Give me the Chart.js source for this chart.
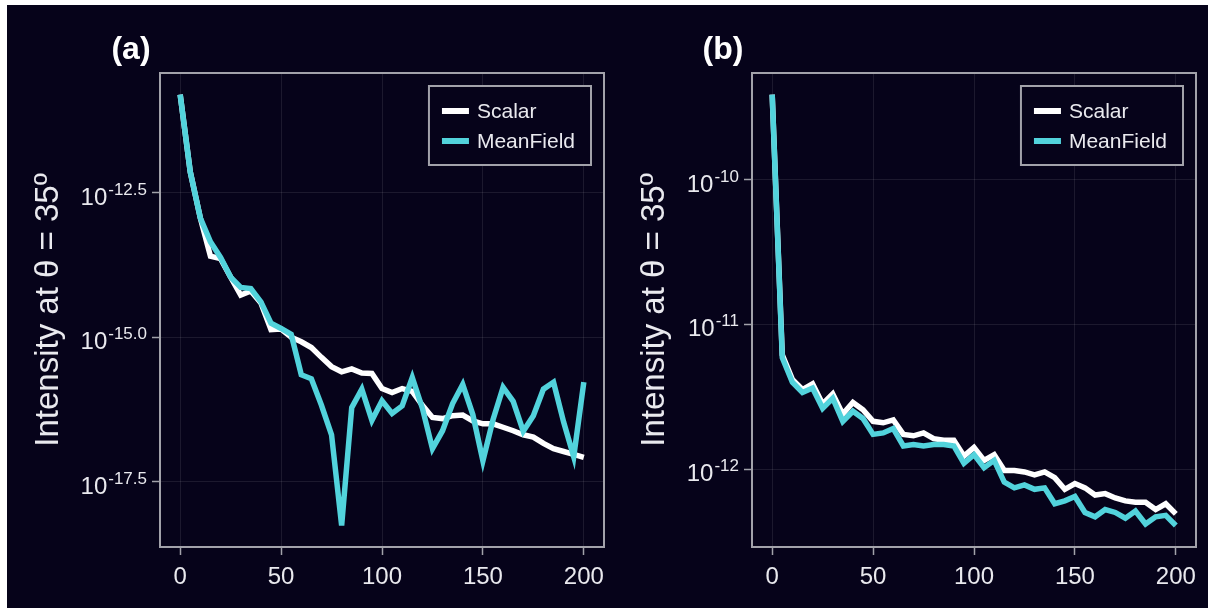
<!DOCTYPE html>
<html lang="en">
<head>
  <meta charset="UTF-8">
  <title>Intensity at θ = 35º</title>
  <script src="https://cdn.jsdelivr.net/npm/chart.js"></script>
  <style>
    * { box-sizing: border-box; margin: 0; padding: 0; }
    body { background: #fff; width: 1208px; height: 608px; overflow: hidden; position: relative; }
    .backdrop { position: absolute; left: 7px; top: 5px; right: 0; bottom: 0; background: #06031a; }
    #panelA { position: absolute; left: 0; top: 0; }
    #panelB { position: absolute; left: 620px; top: 0; }
  </style>
</head>
<body>
<div class="backdrop"></div>
<canvas id="panelA" width="620" height="608"></canvas>
<canvas id="panelB" width="588" height="608"></canvas>

<script>
  // sample positions shared by both panels
  const steps = [0, 5, 10, 15, 20, 25, 30, 35, 40, 45, 50, 55, 60, 65, 70, 75, 80, 85, 90, 95,
                 100, 105, 110, 115, 120, 125, 130, 135, 140, 145, 150, 155, 160, 165, 170, 175,
                 180, 185, 190, 195, 200];

  // log10 of the intensity, panel (a)
  const scalarA = [-10.80, -12.14, -12.94, -13.60, -13.64, -13.96, -14.27, -14.20, -14.41, -14.87,
                   -14.86, -15.00, -15.08, -15.18, -15.35, -15.51, -15.60, -15.55, -15.62, -15.63,
                   -15.89, -15.96, -15.89, -15.94, -16.18, -16.39, -16.41, -16.36, -16.35, -16.45,
                   -16.50, -16.50, -16.56, -16.62, -16.69, -16.73, -16.84, -16.93, -16.98, -17.03,
                   -17.08];
  const meanFieldA = [-10.80, -12.14, -12.94, -13.35, -13.62, -13.96, -14.14, -14.16, -14.39, -14.76,
                      -14.85, -14.95, -15.65, -15.72, -16.18, -16.69, -18.26, -16.22, -15.90, -16.44,
                      -16.10, -16.32, -16.19, -15.70, -16.23, -16.93, -16.62, -16.15, -15.82, -16.34,
                      -17.14, -16.43, -15.87, -16.11, -16.63, -16.36, -15.90, -15.78, -16.47, -17.07,
                      -15.78];

  // log10 of the intensity, panel (b)
  const scalarB = [-9.41, -11.21, -11.38, -11.45, -11.41, -11.55, -11.48, -11.62, -11.54, -11.59,
                   -11.67, -11.68, -11.66, -11.76, -11.77, -11.75, -11.79, -11.80, -11.80, -11.91,
                   -11.85, -11.94, -11.90, -12.01, -12.01, -12.02, -12.04, -12.02, -12.06, -12.14,
                   -12.10, -12.13, -12.18, -12.17, -12.20, -12.22, -12.23, -12.23, -12.28, -12.24,
                   -12.31];
  const meanFieldB = [-9.41, -11.23, -11.40, -11.47, -11.44, -11.58, -11.51, -11.67, -11.60, -11.65,
                      -11.76, -11.75, -11.72, -11.84, -11.83, -11.84, -11.83, -11.83, -11.84, -11.96,
                      -11.90, -11.99, -11.94, -12.09, -12.13, -12.11, -12.14, -12.13, -12.24, -12.22,
                      -12.19, -12.30, -12.33, -12.28, -12.30, -12.34, -12.29, -12.38, -12.33, -12.32,
                      -12.39];

  // tick labels
  const xTicks = [0, 50, 100, 150, 200];
  const yExpA = ['-17.5', '-15.0', '-12.5'];
  const yExpB = ['-12', '-11', '-10'];
  const seriesNames = ['Scalar', 'MeanField'];

  const FONT = '"Liberation Sans", Arial, Helvetica, sans-serif';
  const BG = '#06031a';
  const WHITE = '#ffffff';
  const CYAN = '#52d3dc';
  const FRAME = '#a2a2aa';
  const GRID = 'rgba(255,255,255,0.09)';
  const TEXT = '#e9e9ee';

  // frame, superscript tick labels, panel letter and boxed legend
  const panelDecor = {
    id: 'panelDecor',
    afterDraw(chart, args, opts) {
      const { ctx, chartArea: a } = chart;
      const ys = chart.scales.y;
      ctx.save();

      ctx.strokeStyle = FRAME;
      ctx.lineWidth = 2;
      ctx.strokeRect(a.left, a.top, a.right - a.left, a.bottom - a.top);

      ctx.fillStyle = TEXT;
      ctx.textBaseline = 'alphabetic';
      ctx.textAlign = 'right';
      ys.ticks.forEach(t => {
        const py = ys.getPixelForValue(t.value);
        const right = a.left - 13;
        ctx.font = '17px ' + FONT;
        ctx.fillText(t.label, right, py + 2);
        const ew = ctx.measureText(t.label).width;
        ctx.font = '24px ' + FONT;
        ctx.fillText('10', right - ew - 1, py + 12);
      });

      ctx.font = 'bold 32px ' + FONT;
      ctx.textAlign = 'center';
      ctx.textBaseline = 'middle';
      ctx.fillStyle = WHITE;
      ctx.fillText(opts.letter, a.left - 29, 50);

      ctx.font = '21px ' + FONT;
      const names = chart.data.datasets.map(d => d.label);
      const tw = Math.max(...names.map(n => ctx.measureText(n).width));
      const w = 13 + 27 + 8 + tw + 16, h = 79;
      const bx = a.right - 13 - w, by = a.top + 13;
      ctx.fillStyle = BG;
      ctx.fillRect(bx, by, w, h);
      ctx.strokeStyle = FRAME;
      ctx.lineWidth = 2;
      ctx.strokeRect(bx, by, w, h);
      ctx.textAlign = 'left';
      chart.data.datasets.forEach((d, i) => {
        const cy = by + 25 + i * 30;
        ctx.fillStyle = d.borderColor;
        ctx.fillRect(bx + 13, cy - 3, 27, 6);
        ctx.fillStyle = TEXT;
        ctx.fillText(d.label, bx + 48, cy + 1);
      });
      ctx.restore();
    }
  };

  function makePanel(id, p) {
    const all = p.scalar.concat(p.meanField);
    const lo = Math.min(...all), hi = Math.max(...all);
    const margin = (hi - lo) * 0.05;
    const points = vals => steps.map((x, i) => ({ x: x, y: Math.pow(10, vals[i]) }));

    return new Chart(document.getElementById(id), {
      type: 'line',
      data: {
        datasets: [
          { label: seriesNames[0], data: points(p.scalar), borderColor: WHITE, order: 2 },
          { label: seriesNames[1], data: points(p.meanField), borderColor: CYAN, order: 1 }
        ]
      },
      options: {
        responsive: false,
        animation: false,
        layout: { padding: { left: 0, top: 73, right: p.padRight, bottom: 21 } },
        elements: {
          line: { borderWidth: 5.5, tension: 0, borderJoinStyle: 'miter', fill: false },
          point: { radius: 0, hoverRadius: 0 }
        },
        plugins: {
          legend: { display: false },
          tooltip: { enabled: false },
          panelDecor: { letter: p.letter }
        },
        scales: {
          x: {
            type: 'linear',
            min: -10,
            max: 210,
            afterBuildTicks: s => { s.ticks = xTicks.map(v => ({ value: v })); },
            afterFit: s => { s.height = 40; },
            border: { display: false },
            grid: { color: GRID, lineWidth: 1, tickColor: FRAME, tickLength: 8, tickWidth: 1.5 },
            ticks: { color: TEXT, font: { family: FONT, size: 24 }, padding: 8, maxRotation: 0 }
          },
          y: {
            type: 'logarithmic',
            min: Math.pow(10, lo - margin),
            max: Math.pow(10, hi + margin),
            afterBuildTicks: s => {
              s.ticks = p.exps.map(e => ({ value: Math.pow(10, parseFloat(e)) }));
            },
            afterFit: s => { s.width = p.axisWidth; },
            border: { display: false },
            grid: { color: GRID, lineWidth: 1, tickColor: FRAME, tickLength: 8, tickWidth: 1.5 },
            ticks: { display: false, callback: (v, i) => p.exps[i] },
            title: {
              display: true,
              text: 'Intensity at θ = 35º',
              color: TEXT,
              font: { family: FONT, size: 33 },
              padding: { top: p.titlePad, bottom: p.titlePad }
            }
          }
        }
      },
      plugins: [panelDecor]
    });
  }

  makePanel('panelA', {
    letter: '(a)', scalar: scalarA, meanField: meanFieldA, exps: yExpA,
    axisWidth: 160, padRight: 16, titlePad: 29
  });
  makePanel('panelB', {
    letter: '(b)', scalar: scalarB, meanField: meanFieldB, exps: yExpB,
    axisWidth: 132, padRight: 12, titlePad: 15
  });
</script>
</body>
</html>
